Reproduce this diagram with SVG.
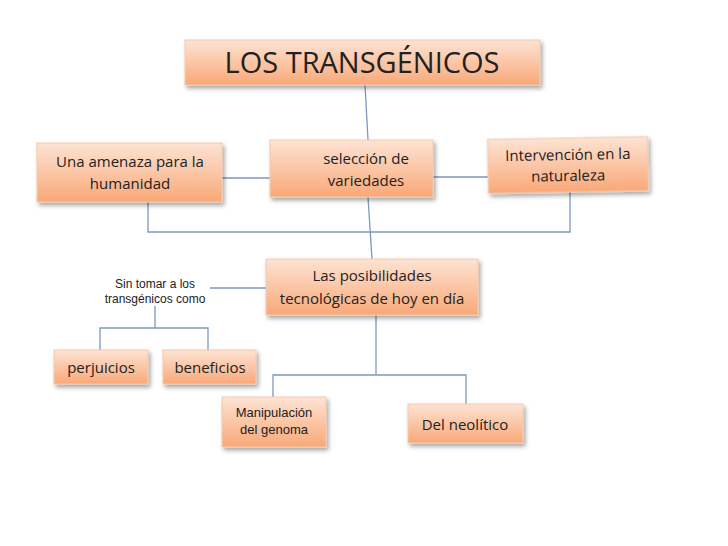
<svg xmlns="http://www.w3.org/2000/svg" width="728" height="546" viewBox="0 0 728 546">
<defs>
<linearGradient id="g" x1="0" y1="0" x2="0" y2="1">
<stop offset="0" stop-color="#fde3d3"/><stop offset="0.5" stop-color="#fbc6a6"/><stop offset="1" stop-color="#f9a877"/>
</linearGradient>
<filter id="s" x="-10%" y="-10%" width="130%" height="140%"><feDropShadow dx="2" dy="3" stdDeviation="2" flood-color="#000" flood-opacity="0.35"/></filter>
</defs>
<style>
.b{fill:url(#g);stroke:#f3c9ae;stroke-width:1;filter:url(#s)}
.t{font-family:"Open Sans","Liberation Sans",sans-serif;fill:#222;text-anchor:middle;font-size:15px}
.a{font-family:"Liberation Sans",Arial,sans-serif;fill:#222;text-anchor:middle;font-size:12px}
.c{stroke:#7c98bf;stroke-width:1.3;fill:none}
</style>
<rect width="728" height="546" fill="#fff"/>
<g id="connectors" class="c">
<path d="M365 85L368 140M222 178H270M433 177H488M368 197L372 259M148 202V232H570V192M210 288H266M155 306V328M100 350V328H208V350M376 315V375M273 397V375H466V404"/>
</g>
<g id="title"><rect class="b" x="185" y="40" width="355" height="45"/><text class="t" x="362" y="73" style="font-size:29px">LOS TRANSGÉNICOS</text></g>
<g id="amenaza"><rect class="b" x="37" y="143" width="185" height="59"/><text class="t" x="130" y="167">Una amenaza para la</text><text class="t" x="130" y="189">humanidad</text></g>
<g id="seleccion"><rect class="b" x="270" y="140" width="163" height="57"/><text class="t" x="366" y="164">selección de</text><text class="t" x="366" y="186">variedades</text></g>
<g id="intervencion" transform="rotate(-1 568 165)"><rect class="b" x="488" y="138" width="160" height="54"/><text class="t" x="568" y="160">Intervención en la</text><text class="t" x="568" y="181">naturaleza</text></g>
<g id="posibilidades"><rect class="b" x="266" y="259" width="212" height="56"/><text class="t" x="372" y="281">Las posibilidades</text><text class="t" x="372" y="304">tecnológicas de hoy en día</text></g>
<g id="sintomar"><text class="a" x="155" y="288">Sin tomar a los</text><text class="a" x="155" y="303">transgénicos como</text></g>
<g id="perjuicios"><rect class="b" x="54" y="350" width="94" height="34"/><text class="t" x="101" y="373">perjuicios</text></g>
<g id="beneficios"><rect class="b" x="163" y="350" width="93" height="34"/><text class="t" x="210" y="373">beneficios</text></g>
<g id="manipulacion"><rect class="b" x="222" y="397" width="104" height="50"/><text class="a" x="274" y="417" style="font-size:13px">Manipulación</text><text class="a" x="274" y="434" style="font-size:13px">del genoma</text></g>
<g id="neolitico"><rect class="b" x="408" y="404" width="115" height="39"/><text class="t" x="465" y="430">Del neolítico</text></g>
</svg>
